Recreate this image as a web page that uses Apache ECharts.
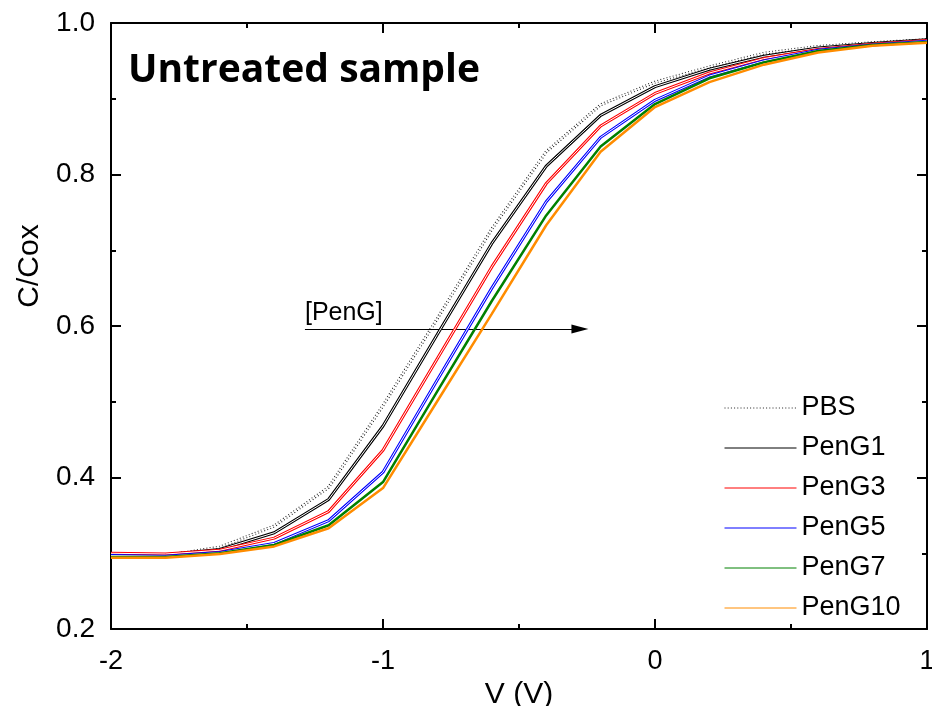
<!DOCTYPE html>
<html>
<head>
<meta charset="utf-8">
<script src="https://cdn.jsdelivr.net/npm/echarts@6/dist/echarts.min.js"></script>
<style>
html,body{margin:0;padding:0;background:#fff;}
#chart{width:932px;height:706px;}
</style>
</head>
<body>
<div id="chart"></div>
<script>
// ---- data ----
const volts = [-2, -1.8, -1.6, -1.4, -1.2, -1.0, -0.8, -0.6, -0.4, -0.2, 0, 0.2, 0.4, 0.6, 0.8, 1.0];
const seriesNames = ['PBS', 'PenG1', 'PenG3', 'PenG5', 'PenG7', 'PenG10'];
const pbs    = [0.297, 0.297, 0.308, 0.336, 0.387, 0.495, 0.610, 0.728, 0.830, 0.892, 0.922, 0.942, 0.960, 0.969, 0.974, 0.978];
const peng1  = [0.299, 0.298, 0.305, 0.327, 0.371, 0.468, 0.589, 0.709, 0.811, 0.878, 0.916, 0.939, 0.956, 0.967, 0.973, 0.978];
const peng3  = [0.300, 0.299, 0.304, 0.320, 0.355, 0.436, 0.557, 0.678, 0.788, 0.864, 0.907, 0.934, 0.953, 0.965, 0.972, 0.977];
const peng5  = [0.297, 0.296, 0.301, 0.313, 0.343, 0.407, 0.529, 0.650, 0.764, 0.849, 0.898, 0.930, 0.950, 0.964, 0.971, 0.976];
const peng7  = [0.295, 0.295, 0.300, 0.311, 0.337, 0.394, 0.514, 0.633, 0.746, 0.837, 0.893, 0.927, 0.948, 0.963, 0.971, 0.975];
const peng10 = [0.294, 0.294, 0.299, 0.309, 0.333, 0.386, 0.501, 0.616, 0.733, 0.830, 0.889, 0.922, 0.945, 0.961, 0.970, 0.974];
const xTicks = [-2, -1, 0, 1];
const yTicks = [0.2, 0.4, 0.6, 0.8, 1.0];
const arrowFrom = [-1.287, 0.596];
const arrowTo = [-0.276, 0.596];
const arrowLabel = '[PenG]';
const titleText = 'Untreated sample';

// ---- styles ----
const allValues = [pbs, peng1, peng3, peng5, peng7, peng10];
const colors = ['#222222', '#000000', '#ff0000', '#0000ff', '#008000', '#ff8c00'];
const doubled = [true, true, true, true, false, false];
const widths = [3, 3, 3, 3, 2.5, 2.5];

const font = 'Liberation Sans, Arial, sans-serif';
const series = [];
allValues.forEach(function (vals, i) {
  const data = volts.map(function (v, k) { return [v, vals[k]]; });
  series.push({
    name: seriesNames[i],
    type: 'line',
    data: data,
    symbol: 'none',
    showSymbol: false,
    silent: true,
    z: 2 + i * 2,
    itemStyle: { color: colors[i] },
    lineStyle: {
      color: colors[i],
      width: widths[i],
      type: i === 0 ? [1, 2.2] : 'solid'
    },
    emphasis: { disabled: true }
  });
  if (doubled[i]) {
    series.push({
      name: '_inner' + i,
      type: 'line',
      data: data,
      symbol: 'none',
      silent: true,
      z: 3 + i * 2,
      lineStyle: { color: '#ffffff', width: 1, type: 'solid' },
      emphasis: { disabled: true }
    });
  }
});
// arrow annotation
series.push({
  name: '_arrow',
  type: 'line',
  data: [],
  silent: true,
  z: 20,
  markLine: {
    silent: true,
    symbol: ['none', 'triangle'],
    symbolSize: [9, 17],
    lineStyle: { color: '#000', width: 1.2, type: 'solid' },
    label: {
      show: true,
      position: 'insideStartTop',
      formatter: arrowLabel,
      color: '#000',
      fontFamily: font,
      fontSize: 25,
      distance: [0, 3]
    },
    data: [[{ coord: arrowFrom }, { coord: arrowTo }]]
  }
});

const axisLine = { show: true, onZero: false, lineStyle: { color: '#000', width: 2 } };
const tick = { show: true, inside: true, length: 10, lineStyle: { color: '#000', width: 2 } };
const minor = { show: true, splitNumber: 2, length: 5, lineStyle: { color: '#000', width: 2 } };

const chart = echarts.init(document.getElementById('chart'), null, { renderer: 'canvas' });
chart.setOption({
  animation: false,
  backgroundColor: '#fff',
  title: {
    text: titleText,
    left: 123,
    top: 46,
    textStyle: { fontFamily: 'Open Sans', fontWeight: 'bold', fontSize: 39, color: '#000' }
  },
  legend: {
    data: seriesNames,
    orient: 'vertical',
    left: 719,
    top: 388,
    itemWidth: 72,
    itemHeight: 14,
    itemGap: 10,
    itemStyle: { opacity: 0 },
    lineStyle: { width: 1 },
    textStyle: { fontFamily: font, fontSize: 27, color: '#000', lineHeight: 30 },
    selectedMode: false
  },
  grid: { left: 111, right: 5, top: 23, bottom: 77, containLabel: false, outerBoundsMode: 'none' },
  xAxis: [{
    type: 'value',
    min: -2, max: 1, interval: 1,
    name: 'V (V)',
    nameLocation: 'middle',
    nameGap: 41,
    nameTextStyle: { fontFamily: font, fontSize: 30, color: '#000' },
    axisLine: axisLine, axisTick: tick, minorTick: minor,
    splitLine: { show: false },
    axisLabel: { fontFamily: font, fontSize: 27, color: '#000', margin: 19,
      formatter: function (v) { return xTicks.indexOf(v) >= 0 ? String(v) : ''; } }
  }, {
    type: 'value', position: 'top',
    min: -2, max: 1, interval: 1,
    axisLine: axisLine, axisTick: tick, minorTick: minor,
    splitLine: { show: false }, axisLabel: { show: false }
  }],
  yAxis: [{
    type: 'value',
    min: 0.2, max: 1.0, interval: 0.2,
    name: 'C/Cox',
    nameLocation: 'middle',
    nameGap: 63,
    nameTextStyle: { fontFamily: font, fontSize: 30, color: '#000', padding: [0, 0, 0, 120] },
    axisLine: axisLine, axisTick: tick, minorTick: minor,
    splitLine: { show: false },
    axisLabel: { fontFamily: font, fontSize: 28, color: '#000', margin: 16,
      formatter: function (v) { return yTicks.some(function (t) { return Math.abs(t - v) < 1e-9; }) ? v.toFixed(1) : ''; } }
  }, {
    type: 'value', position: 'right',
    min: 0.2, max: 1.0, interval: 0.2,
    axisLine: axisLine, axisTick: tick, minorTick: minor,
    splitLine: { show: false }, axisLabel: { show: false }
  }],
  series: series
});
</script>
</body>
</html>
